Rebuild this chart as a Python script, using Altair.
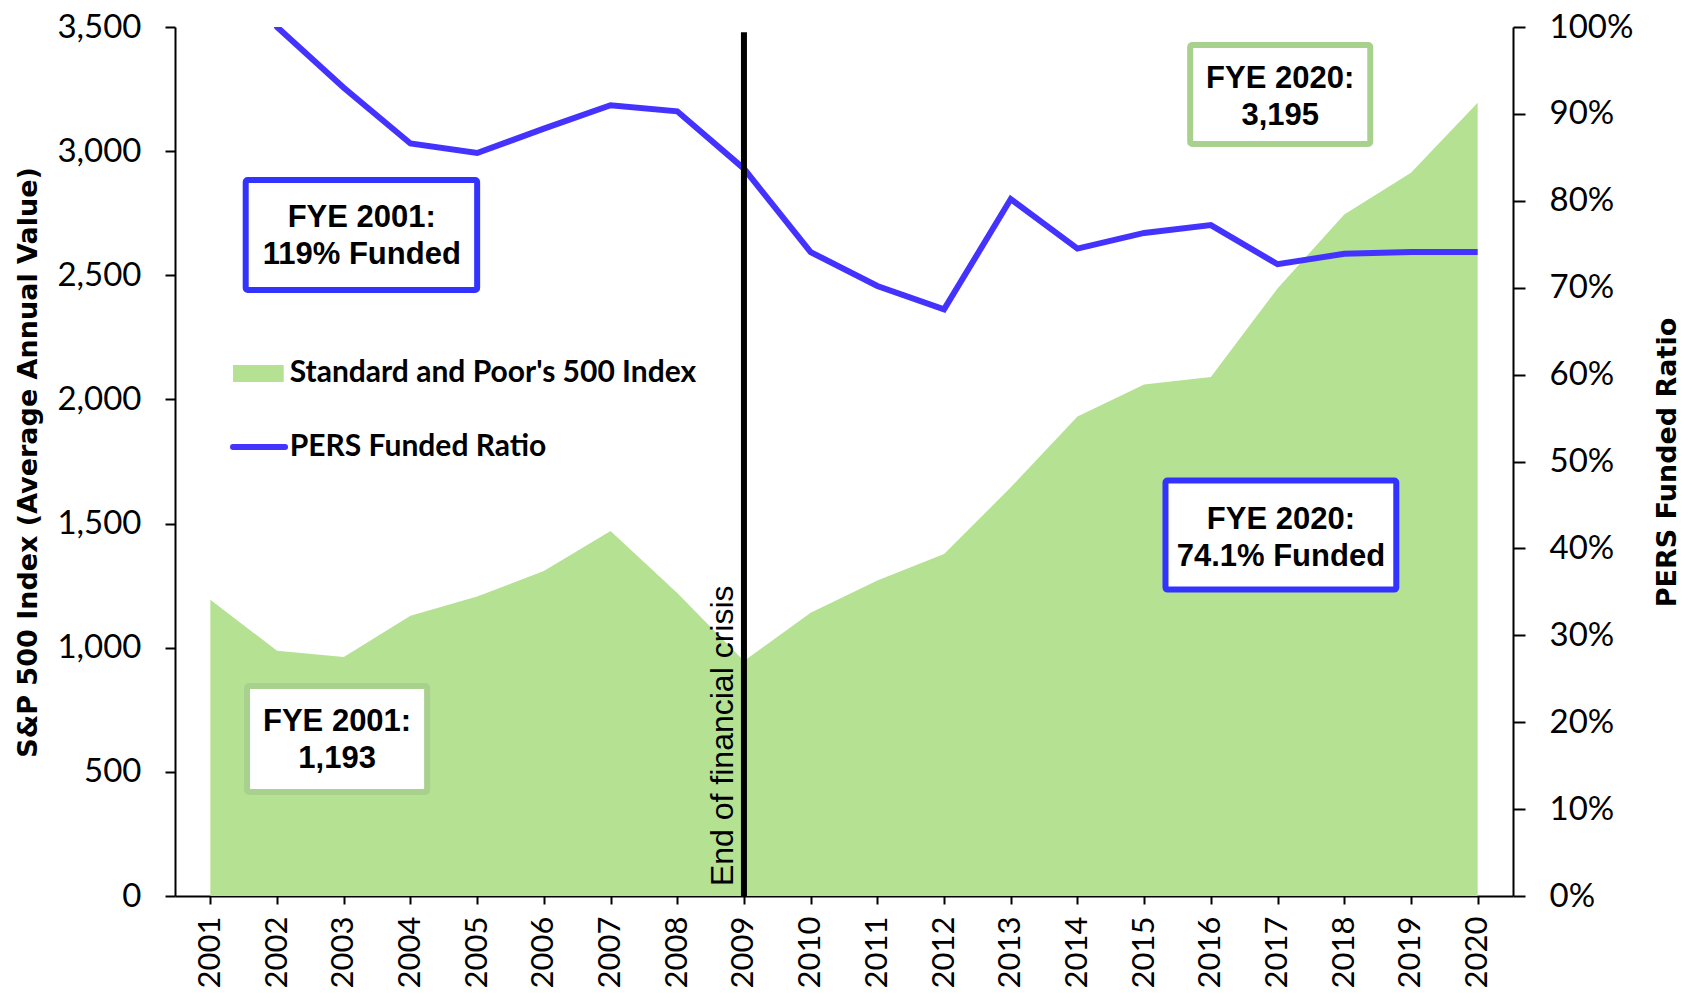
import altair as alt
import pandas as pd

# ---------------- data ----------------
years = list(range(2001, 2021))
sp500 = [1193, 988, 963, 1129, 1206, 1309, 1470, 1220, 946, 1141,
         1271, 1377, 1646, 1931, 2060, 2090, 2447, 2745, 2913, 3195]
funded = [1.19, 1.00, 0.930, 0.866, 0.855, 0.883, 0.910, 0.903, 0.837, 0.741,
          0.702, 0.675, 0.802, 0.745, 0.763, 0.772, 0.727, 0.739, 0.741, 0.741]

left_ticks = [0, 500, 1000, 1500, 2000, 2500, 3000, 3500]
right_ticks = [0, 0.1, 0.2, 0.3, 0.4, 0.5, 0.6, 0.7, 0.8, 0.9, 1.0]

crisis_year = [2009]
crisis_label = ["End of financial crisis"]

box_labels = ["FYE 2001:\n119% Funded", "FYE 2001:\n1,193",
              "FYE 2020:\n3,195", "FYE 2020:\n74.1% Funded"]
box_colors = ["#3333ff", "#a9d18e", "#a9d18e", "#3333ff"]
# annotation anchors in data units (year, S&P value)
box_x1 = [2001.53, 2001.55, 2015.69, 2015.32]
box_x2 = [2005.00, 2004.25, 2018.39, 2018.78]
box_y1 = [2884, 846, 3427, 1673]
box_y2 = [2441, 419, 3029, 1234]
box_tx = [2003.27, 2002.90, 2017.04, 2017.05]
box_ty = [2731, 701, 3291, 1514]

legend_labels = ["Standard and Poor's 500 Index", "PERS Funded Ratio"]

GREEN = "#b5e193"
BLUE_LINE = "#4433ff"

X_DOMAIN = [2000.47, 2020.53]

df = pd.DataFrame({"year": years, "sp500": sp500, "funded": funded})

xs = alt.Scale(domain=X_DOMAIN, nice=False, zero=False)
ys = alt.Scale(domain=[0, 3500], nice=False, zero=False)
yr = alt.Scale(domain=[0, 1.0], nice=False, zero=False)

x_axis = alt.Axis(values=years, labelExpr="format(datum.value, 'd')",
                  labelAngle=270, labelFont="Lato",
                  labelFontSize=31, labelColor="#000", labelPadding=12,
                  tickSize=8, tickWidth=2, tickColor="#000", domainWidth=2,
                  domainColor="#000", grid=False, title=None,
                  labelFlush=False, labelOverlap=False)

left_axis = alt.Axis(values=left_ticks,
                     labelExpr="format(datum.value, ',')", labelFont="Lato",
                     labelFontSize=33, labelColor="#000", labelPadding=24,
                     tickSize=10, tickWidth=2, tickColor="#000", domainWidth=2,
                     domainColor="#000", grid=False,
                     title="S&P 500 Index (Average Annual Value)",
                     titleFont="DejaVu Sans", titleFontSize=27,
                     titleFontWeight="bold", titleColor="#000", titleAngle=270,
                     titleX=-133, titleY=435, titleBaseline="bottom",
                     titleAlign="center", labelFlush=False, labelOverlap=False)

right_axis = alt.Axis(values=right_ticks,
                      labelExpr="format(datum.value, '.0%')", labelFont="Lato",
                      labelFontSize=33, labelColor="#000", labelPadding=24,
                      tickSize=12, tickWidth=2, tickColor="#000", domainWidth=2,
                      domainColor="#000", grid=False, orient="right",
                      title="PERS Funded Ratio", titleFont="DejaVu Sans",
                      titleFontSize=27, titleFontWeight="bold",
                      titleColor="#000", titleAngle=270, titleX=168,
                      titleY=435, titleBaseline="bottom", titleAlign="center",
                      labelFlush=False, labelOverlap=False)

base = alt.Chart(df)

area = base.mark_area(color=GREEN, opacity=1).encode(
    x=alt.X("year:Q", scale=xs, axis=x_axis),
    y=alt.Y("sp500:Q", scale=ys, axis=left_axis),
)

crisis_df = pd.DataFrame({"year": crisis_year, "label": crisis_label, "y": [40]})
crisis_text = alt.Chart(crisis_df).mark_text(
    angle=270, align="left", baseline="alphabetic", dy=-11,
    font="Liberation Sans", fontSize=32, color="#000"
).encode(
    x=alt.X("year:Q", scale=xs),
    y=alt.Y("y:Q", scale=ys),
    text="label:N",
)

box_df = pd.DataFrame({"x1": box_x1, "x2": box_x2, "y1": box_y1, "y2": box_y2,
                       "tx": box_tx, "ty": box_ty, "label": box_labels,
                       "col": box_colors})
boxes = alt.Chart(box_df).mark_rect(fill="white", strokeWidth=6,
                                    cornerRadius=2).encode(
    x=alt.X("x1:Q", scale=xs),
    x2="x2:Q",
    y=alt.Y("y1:Q", scale=ys),
    y2="y2:Q",
    stroke=alt.Stroke("col:N", scale=None),
)
box_text = alt.Chart(box_df).mark_text(
    font="Liberation Sans", fontSize=31, fontWeight="bold", color="#000",
    lineBreak="\n", lineHeight=37, align="center", baseline="middle"
).encode(
    x=alt.X("tx:Q", scale=xs),
    y=alt.Y("ty:Q", scale=ys),
    text="label:N",
)

# legend (manual)
leg_swatch_df = pd.DataFrame({"x1": [2001.34], "x2": [2002.10],
                              "y1": [2139], "y2": [2070]})
leg_swatch = alt.Chart(leg_swatch_df).mark_rect(color=GREEN).encode(
    x=alt.X("x1:Q", scale=xs), x2="x2:Q",
    y=alt.Y("y1:Q", scale=ys), y2="y2:Q",
)
leg_line_df = pd.DataFrame({"x1": [2001.34], "x2": [2002.12], "y": [1808]})
leg_line = alt.Chart(leg_line_df).mark_rule(color=BLUE_LINE, strokeWidth=6,
                                            strokeCap="round").encode(
    x=alt.X("x1:Q", scale=xs), x2="x2:Q",
    y=alt.Y("y:Q", scale=ys),
)
leg_text_df = pd.DataFrame({"x": [2002.19, 2002.19], "y": [2106, 1808],
                            "label": legend_labels})
leg_text = alt.Chart(leg_text_df).mark_text(
    font="Lato", fontSize=30, fontWeight="bold", color="#000",
    align="left", baseline="middle"
).encode(
    x=alt.X("x:Q", scale=xs),
    y=alt.Y("y:Q", scale=ys),
    text="label:N",
)

left_group = alt.layer(area, crisis_text, boxes, box_text, leg_swatch,
                       leg_line, leg_text)

line = base.mark_line(color=BLUE_LINE, strokeWidth=6, clip=True).encode(
    x=alt.X("year:Q", scale=xs),
    y=alt.Y("funded:Q", scale=yr, axis=right_axis),
)

rule_df = pd.DataFrame({"year": crisis_year, "f0": [0.0], "f1": [0.994]})
crisis_rule = alt.Chart(rule_df).mark_rule(color="#000", strokeWidth=6).encode(
    x=alt.X("year:Q", scale=xs),
    y=alt.Y("f0:Q", scale=yr),
    y2="f1:Q",
)

right_group = alt.layer(line, crisis_rule)

chart = alt.layer(left_group, right_group).resolve_scale(
    y="independent"
).properties(
    width=1338, height=869,
    autosize=alt.AutoSizeParams(type="none"),
    padding={"left": 167, "top": 19, "right": 171, "bottom": 94},
    background="white",
).configure_view(stroke=None)

chart.save("out.html", embed_options={"renderer": "svg", "actions": False})
